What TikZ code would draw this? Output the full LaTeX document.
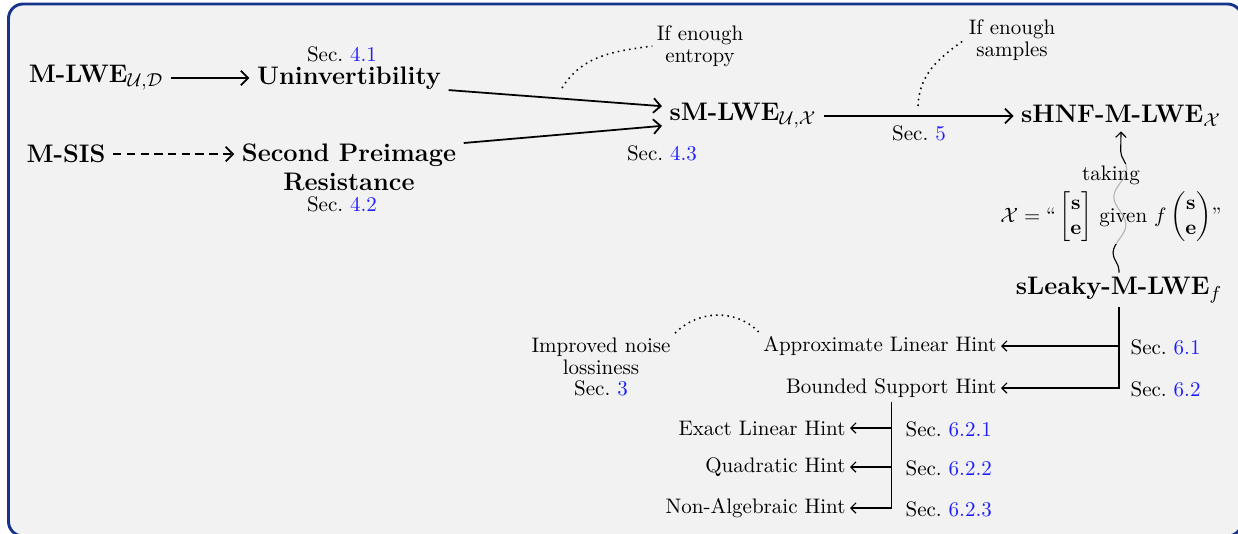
\documentclass[tikz,border=0pt]{standalone}
\usepackage{amsmath}
\usetikzlibrary{arrows.meta,decorations.pathmorphing}
\definecolor{bggray}{RGB}{242,242,242}
\definecolor{framenavy}{RGB}{22,52,140}
\definecolor{linkblue}{RGB}{30,30,255}
\newcommand{\secref}[1]{Sec.~\textcolor{linkblue}{#1}}
\begin{document}
\begin{tikzpicture}[x=0.481pt,y=-0.481pt,
 big/.style={font=\fontsize{12.2}{14}\selectfont\bfseries, inner sep=2pt, align=center},
 txt/.style={font=\fontsize{10.1}{12}\selectfont, inner sep=2pt},
 note/.style={font=\fontsize{10.1}{10.5}\selectfont, align=center, inner sep=2pt},
 mainarrow/.style={line width=0.85pt, -{Straight Barb[length=3.5pt,width=7pt]}, shorten <=1.5pt, shorten >=1.5pt},
 treearrow/.style={line width=0.55pt, -{Straight Barb[length=2.5pt,width=5pt]}},
 dots/.style={dotted, line width=0.75pt}
]
\useasboundingbox (0,0) rectangle (1238,533);
\draw[fill=bggray, draw=framenavy, line width=1.4pt, rounded corners=7pt] (8.5,4) rectangle (1242,536);

% top row
\node[big] (mlwe) at (96,78) {M-LWE$_{\mathcal{U},\mathcal{D}}$};
\node[big] (uninv) at (349,78) {Uninvertibility};
\node[txt] (sec41) at (342,54) {\secref{4.1}};
\node[big] (msis) at (66,154) {M-SIS};
\node[big] (spr) at (349,167) {Second Preimage\\Resistance};
\node[txt] (sec42) at (342,204) {\secref{4.2}};
\node[big] (smlwe) at (743,116) {sM-LWE$_{\mathcal{U},\mathcal{X}}$};
\node[txt] (sec43) at (662,153) {\secref{4.3}};
\node[note] (entropy) at (700,46) {If enough\\entropy};
\node[big] (shnf) at (1121,116) {sHNF-M-LWE$_{\mathcal{X}}$};
\node[txt] (sec5) at (919,133) {\secref{5}};
\node[note] (samples) at (1012,40) {If enough\\samples};
\node[big] (leaky) at (1119,290) {sLeaky-M-LWE$_f$};

\coordinate (entc) at (562,88);
\coordinate (samc) at (918,106);

\draw[mainarrow] (mlwe.east) -- (mlwe.east -| uninv.west);
\draw[mainarrow, dashed, dash pattern=on 4pt off 2.6pt] (msis.east) -- (msis.east -| spr.west);
\draw[mainarrow] (uninv.-7) -- (smlwe.173);
\draw[mainarrow] (spr.12) -- (smlwe.187);
\draw[mainarrow] (smlwe.east) -- (smlwe.east -| shnf.west);
\draw[dots] (entc) to[out=58,in=188] (entropy.west);
\draw[dots] (samc) to[out=88,in=215] (samples.west);

% snake arrow with label
\draw[line width=0.55pt, -{Straight Barb[length=2.5pt,width=5pt]}, decorate,
  decoration={snake, amplitude=3pt, segment length=27pt, pre length=1pt, post length=4pt}]
  (leaky.north) -- (shnf.south);
\node[txt, align=center, fill=bggray, fill opacity=0.75, text opacity=1, inner sep=1pt] (lbl) at (1111,204)
  {taking\\[2.5pt]$\mathcal{X} = {}$``\,$\begin{bmatrix}\mathbf{s}\\\mathbf{e}\end{bmatrix}$ given $f\begin{pmatrix}\mathbf{s}\\\mathbf{e}\end{pmatrix}$''};

% hints
\node[txt, anchor=east] (alh) at (1001,346) {Approximate Linear Hint};
\node[txt, anchor=east] (bsh) at (1001,388) {Bounded Support Hint};
\node[txt, anchor=west] (sec61) at (1126,347) {\secref{6.1}};
\node[txt, anchor=west] (sec62) at (1126,389) {\secref{6.2}};
\node[note] (imp) at (601,367) {Improved noise\\lossiness\\\secref{3}};
\draw[dots] (imp.north east) to[out=45,in=135] (alh.north west);

\draw[treearrow] (leaky.south) |- (alh.east);
\draw[treearrow] (leaky.south) |- (bsh.east);

\node[txt, anchor=east] (elh) at (850,428) {Exact Linear Hint};
\node[txt, anchor=east] (qh) at (850,467) {Quadratic Hint};
\node[txt, anchor=east] (nah) at (850,508) {Non-Algebraic Hint};
\node[txt, anchor=west] (sec621) at (901,429) {\secref{6.2.1}};
\node[txt, anchor=west] (sec622) at (901,468) {\secref{6.2.2}};
\node[txt, anchor=west] (sec623) at (901,509) {\secref{6.2.3}};

\draw[treearrow] (bsh.south) |- (elh.east);
\draw[treearrow] (bsh.south) |- (qh.east);
\draw[treearrow] (bsh.south) |- (nah.east);
\end{tikzpicture}
\end{document}
